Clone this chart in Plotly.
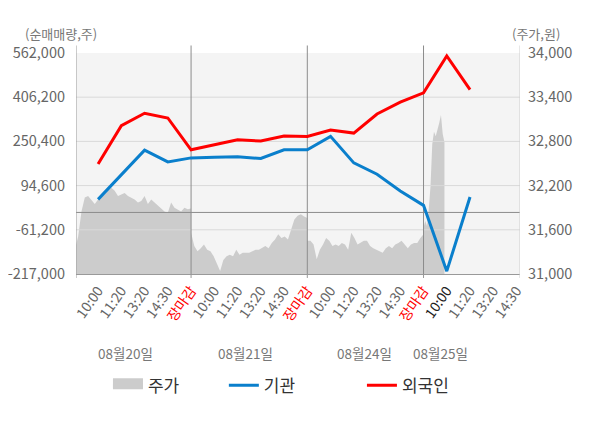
import numpy as np
import plotly.graph_objects as go

FONT = "Noto Sans CJK KR"

# ---------------- data ----------------
DAYS = ["08월20일", "08월21일", "08월24일", "08월25일"]
SLOT_LABELS = ["10:00", "11:20", "13:20", "14:30", "장마감"]
CURRENT_LABEL_DAY = 3          # day whose first label is highlighted (today)
LAST_DAY_SLOTS = 4             # today's axis shows 10:00 .. 14:30

# intraday price (원), one list per trading day
PRICE_DAY1 = [31330, 31510, 31850, 32040, 32060, 32010, 31950, 32010, 32040, 32080,
              32130, 32170, 32130, 32060, 32080, 32100, 32060, 32040, 32010, 31970,
              31990, 32060, 31950, 32010, 31970, 31920, 31880, 31850, 31830, 31970,
              31900, 31880, 31850, 31900, 31880, 31890]
PRICE_DAY2 = [31560, 31380, 31310, 31350, 31400, 31330, 31310, 31240, 31130, 31040,
              31190, 31240, 31260, 31240, 31330, 31260, 31290, 31290, 31290, 31310,
              31330, 31330, 31350, 31380, 31350, 31420, 31470, 31540, 31490, 31510,
              31470, 31600, 31740, 31790, 31810, 31780, 31760]
PRICE_DAY3 = [31450, 31450, 31400, 31200, 31330, 31400, 31490, 31450, 31380, 31400,
              31380, 31420, 31400, 31330, 31560, 31490, 31400, 31420, 31450, 31450,
              31380, 31350, 31330, 31310, 31290, 31350, 31380, 31350, 31400, 31420,
              31450, 31400, 31350, 31400, 31420, 31420, 31490, 31540]
PRICE_DAY4 = [31630, 31720, 31650, 31880, 32190, 32760, 32930, 32870, 32950, 33050,
              33160, 32900, 32790]
PRICE_DAYS = [PRICE_DAY1, PRICE_DAY2, PRICE_DAY3, PRICE_DAY4]
SESSION_FRACTION = [1.0, 1.0, 1.0, 0.18]   # share of each day's session covered

# net buying (주) at each labelled time
INSTITUTION = [46100, 131100, 219600, 178200, 192300,
               194800, 195900, 190200, 220700, 220700,
               268100, 174600, 134600, 75500, 24900,
               -207000, 54200]
FOREIGN = [171000, 305700, 349600, 332900, 220700,
           239100, 256100, 251500, 269200, 268000,
           290400, 279800, 347100, 388500, 421400,
           551400, 433100]

LEFT_TICKS = [-217000, -61200, 94600, 250400, 406200, 562000]
RIGHT_TICKS = [31000, 31600, 32200, 32800, 33400, 34000]

# ---------------- derived ----------------
N_SLOTS = len(SLOT_LABELS)
X_RANGE = [0.05, 19.15]

price_x, price_y = [], []
for d, (vals, frac) in enumerate(zip(PRICE_DAYS, SESSION_FRACTION)):
    xs = d * N_SLOTS + np.linspace(0, N_SLOTS * frac, len(vals))
    price_x.extend(xs.tolist())
    price_y.extend(vals)

line_x = list(range(1, len(FOREIGN) + 1))

tick_vals, tick_text = [], []
for d in range(len(DAYS)):
    n = LAST_DAY_SLOTS if d == len(DAYS) - 1 else N_SLOTS
    for k in range(n):
        lab = SLOT_LABELS[k]
        if lab == "장마감":
            txt = f"<span style='color:#ff0000'>{lab}</span>"
        elif d == CURRENT_LABEL_DAY and k == 0:
            txt = f"<span style='color:#222222'>{lab}</span>"
        else:
            txt = lab
        tick_vals.append(d * N_SLOTS + k + 1)
        tick_text.append(txt)

boundaries = [d * N_SLOTS for d in range(1, len(DAYS))]

fig = go.Figure()

# price area (main subplot, right axis)
fig.add_trace(go.Scatter(x=price_x, y=price_y, mode="lines", fill="tozeroy",
                         line=dict(width=0, color="#cccccc"), fillcolor="#cccccc",
                         yaxis="y", showlegend=False, hoverinfo="skip"))

# grid lines / zero line / day separators drawn on overlay, above the area
for v in LEFT_TICKS[1:-1]:
    fig.add_trace(go.Scatter(x=X_RANGE, y=[v, v], mode="lines", yaxis="y2",
                             line=dict(color="#d9d9d9", width=1),
                             showlegend=False, hoverinfo="skip"))
fig.add_trace(go.Scatter(x=X_RANGE, y=[0, 0], mode="lines", yaxis="y2",
                         line=dict(color="#8c8c8c", width=1),
                         showlegend=False, hoverinfo="skip"))
for b in boundaries:
    fig.add_trace(go.Scatter(x=[b, b], y=[LEFT_TICKS[0], LEFT_TICKS[-1]], mode="lines",
                             yaxis="y2", line=dict(color="#8c8c8c", width=1),
                             showlegend=False, hoverinfo="skip"))

fig.add_trace(go.Scatter(x=line_x, y=INSTITUTION, mode="lines", yaxis="y2",
                         line=dict(color="#0a7fcc", width=3), name="기관",
                         legend="legend2"))
fig.add_trace(go.Scatter(x=line_x, y=FOREIGN, mode="lines", yaxis="y2",
                         line=dict(color="#ff0000", width=3), name="외국인",
                         legend="legend3"))
# legend entry for the price area
fig.add_trace(go.Scatter(x=[None], y=[None], mode="lines", fill="tozeroy",
                         line=dict(color="#cccccc", width=10), fillcolor="#cccccc",
                         name="주가", legend="legend"))

# vertical line overhangs and bottom tick marks
shapes = []
for b in boundaries:
    shapes.append(dict(type="line", xref="x", yref="paper", x0=b, x1=b, y0=1, y1=1.034,
                       line=dict(color="#8c8c8c", width=1)))
    shapes.append(dict(type="line", xref="x", yref="paper", x0=b, x1=b, y0=-0.018, y1=0,
                       line=dict(color="#999999", width=1)))
shapes.append(dict(type="line", xref="x", yref="paper", x0=X_RANGE[0], x1=X_RANGE[0],
                   y0=-0.018, y1=1.034, line=dict(color="#999999", width=1)))
shapes.append(dict(type="line", xref="x", yref="paper", x0=X_RANGE[1], x1=X_RANGE[1],
                   y0=-0.018, y1=1.034, line=dict(color="#cfcfcf", width=1)))

annotations = []
DATE_POS = [2.16, 7.32, 12.48, 15.75]
for name, xp in zip(DAYS, DATE_POS):
    annotations.append(dict(x=xp, y=-0.357, xref="x", yref="paper", text=name,
                            showarrow=False, font=dict(size=13.5, color="#777777"),
                            xanchor="center", yanchor="middle"))
annotations.append(dict(x=-0.034, y=1.089, xref="paper", yref="paper", text="(순매매량,주)",
                        showarrow=False, font=dict(size=13, color="#777777"),
                        xanchor="center", yanchor="middle"))
annotations.append(dict(x=1.036, y=1.089, xref="paper", yref="paper", text="(주가,원)",
                        showarrow=False, font=dict(size=13, color="#777777"),
                        xanchor="center", yanchor="middle"))

legend_common = dict(orientation="h", yanchor="middle", y=-0.505, xanchor="left",
                     bgcolor="rgba(0,0,0,0)", font=dict(size=17, color="#333333"))

fig.update_layout(
    width=600, height=428,
    margin=dict(l=68, r=88, t=45, b=162, autoexpand=False),
    paper_bgcolor="white", plot_bgcolor="#f4f4f4",
    font=dict(family=FONT, size=14, color="#666666"),
    xaxis=dict(range=X_RANGE, tickmode="array", tickvals=tick_vals, ticktext=tick_text,
               tickangle=-55, tickfont=dict(size=14, color="#666666"),
               showgrid=False, zeroline=False, showline=True, linecolor="#999999",
               ticks="", ticklabelstandoff=2),
    yaxis=dict(range=[RIGHT_TICKS[0], RIGHT_TICKS[-1]], side="right",
               tickmode="array", tickvals=RIGHT_TICKS,
               ticktext=[f"{v:,}" for v in RIGHT_TICKS],
               showgrid=False, zeroline=False, showline=False, ticks="",
               ticklabelstandoff=7, tickfont=dict(size=14.5, color="#666666")),
    yaxis2=dict(range=[LEFT_TICKS[0], LEFT_TICKS[-1]], side="left", overlaying="y",
                tickmode="array", tickvals=LEFT_TICKS,
                ticktext=[f"{v:,}" for v in LEFT_TICKS],
                showgrid=False, zeroline=False, showline=False, ticks="",
                ticklabelstandoff=10, tickfont=dict(size=14.5, color="#666666")),
    legend=dict(x=0.072, **legend_common),
    legend2=dict(x=0.333, **legend_common),
    legend3=dict(x=0.644, **legend_common),
    shapes=shapes,
    annotations=annotations,
    hovermode=False,
)

fig.write_html("out.html")
